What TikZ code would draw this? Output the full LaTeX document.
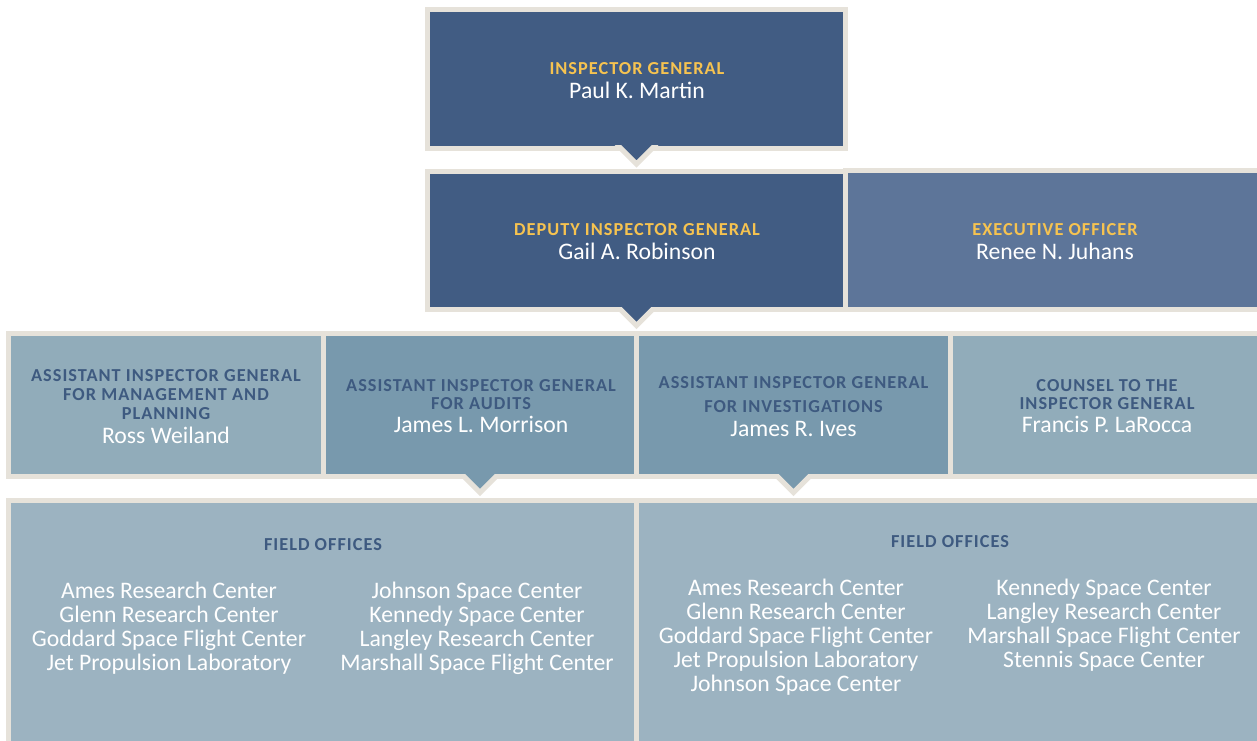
\documentclass[tikz,border=0pt]{standalone}
\usepackage{fontspec}
\setmainfont{Carlito}
\newfontfamily\headfont[LetterSpace=5.5]{Carlito}
\usetikzlibrary{calc}

\definecolor{rim}{HTML}{E6E2DA}
\definecolor{navy}{HTML}{415C83}
\definecolor{slate}{HTML}{5D7599}
\definecolor{steel}{HTML}{7899AD}
\definecolor{mist}{HTML}{91ACBA}
\definecolor{fog}{HTML}{9CB3C1}
\definecolor{gold}{HTML}{F6C350}
\definecolor{ink}{HTML}{3E5A80}

% heading and name faces
\newcommand\hd{\headfont\bfseries\fontsize{18.3}{18}\selectfont}
\newcommand\nm{\fontsize{23.7}{23.7}\selectfont\color{white}}

% pointer below a box: filled notch plus its two rim edges
\newcommand\pointer[2]{%
  \fill[#2] ($(#1.south)+(-18.5,-2.5)$) -- ($(#1.south)+(0,16)$) -- ($(#1.south)+(18.5,-2.5)$) -- cycle;
  \begin{scope}
    \clip ($(#1.south)+(-30,-2.5)$) rectangle ($(#1.south)+(30,30)$);
    \draw[rimline] ($(#1.south)+(-20,-4)$) -- ($(#1.south)+(0,16)$) -- ($(#1.south)+(20,-4)$);
  \end{scope}}

\tikzset{
  box/.style={rectangle, draw=rim, line width=5pt, inner sep=0pt, outer sep=0pt},
  rimline/.style={draw=rim, line width=5pt, line join=miter},
  txt/.style={align=center, inner sep=0pt, outer sep=0pt, anchor=base},
  list/.style={txt, text=white, font=\fontsize{23.7}{24}\selectfont},
}

\begin{document}
\begin{tikzpicture}[x=1pt, y=-1pt]
\clip (0,0) rectangle (1257,740);
\fill[white] (0,0) rectangle (1257,740);

% top two rows
\node[box, fill=navy,  minimum width=418pt,   minimum height=138.5pt] (ig)   at (636.5,78.75) {};
\node[box, fill=navy,  minimum width=418pt,   minimum height=138pt]   (dep)  at (636.5,240.5) {};
\node[box, fill=slate, minimum width=414.5pt, minimum height=139pt]   (exec) at (1052.75,240) {};

% assistant inspectors general and counsel
\node[box, fill=mist,  minimum width=315.5pt, minimum height=143pt] (mgmt) at (165.75,405) {};
\node[box, fill=steel, minimum width=313pt,   minimum height=143pt] (aud)  at (480,405) {};
\node[box, fill=steel, minimum width=314pt,   minimum height=143pt] (inv)  at (793.5,405) {};
\node[box, fill=mist,  minimum width=309.5pt, minimum height=143pt] (cou)  at (1105.25,405) {};

% field offices
\node[box, fill=fog, minimum width=628.5pt, minimum height=244.5pt] (fa) at (322.25,622.75) {};
\node[box, fill=fog, minimum width=623.5pt, minimum height=244.5pt] (fb) at (948.25,622.75) {};

\pointer{ig}{navy}
\pointer{dep}{navy}
\pointer{aud}{steel}
\pointer{inv}{steel}

% texts (each anchored on the baseline of its last line)
\node[txt, font=\fontsize{18}{24.3}\selectfont] (ig-t) at (637,98.3)
  {{\hd\color{gold}INSPECTOR GENERAL}\\{\nm Paul K. Martin}};
\node[txt, font=\fontsize{18}{24.3}\selectfont] (dep-t) at (637,259.3)
  {{\hd\color{gold}DEPUTY INSPECTOR GENERAL}\\{\nm Gail A. Robinson}};
\node[txt, font=\fontsize{18}{24.3}\selectfont] (exec-t) at (1055,259.3)
  {{\hd\color{gold}EXECUTIVE OFFICER}\\{\nm Renee N. Juhans}};

\node[txt, font=\fontsize{18}{19}\selectfont] (mgmt-t) at (166,443.3)
  {{\hd\color{ink}ASSISTANT INSPECTOR GENERAL}\\{\hd\color{ink}FOR MANAGEMENT AND}\\{\hd\color{ink}PLANNING}\\[5.3pt]{\nm Ross Weiland}};
\node[txt, font=\fontsize{18}{18.3}\selectfont] (aud-t) at (481,432)
  {{\hd\color{ink}ASSISTANT INSPECTOR GENERAL}\\{\hd\color{ink}FOR AUDITS}\\[4.4pt]{\nm James L. Morrison}};
\node[txt, font=\fontsize{18}{24.2}\selectfont] (inv-t) at (793.5,436.7)
  {{\hd\color{ink}ASSISTANT INSPECTOR GENERAL}\\{\hd\color{ink}FOR INVESTIGATIONS}\\{\nm James R. Ives}};
\node[txt, font=\fontsize{18}{17.6}\selectfont] (cou-t) at (1107,432.3)
  {{\hd\color{ink}COUNSEL TO THE}\\{\hd\color{ink}INSPECTOR GENERAL}\\[5.4pt]{\nm Francis P. LaRocca}};

\node[txt, text=ink] (fa-h) at (323,550) {\hd FIELD OFFICES};
\node[list] (fa-l) at (169,670.3)
  {Ames Research Center\\Glenn Research Center\\Goddard Space Flight Center\\Jet Propulsion Laboratory};
\node[list] (fa-r) at (477,670.3)
  {Johnson Space Center\\Kennedy Space Center\\Langley Research Center\\Marshall Space Flight Center};

\node[txt, text=ink] (fb-h) at (950,547) {\hd FIELD OFFICES};
\node[list] (fb-l) at (796,691.3)
  {Ames Research Center\\Glenn Research Center\\Goddard Space Flight Center\\Jet Propulsion Laboratory\\Johnson Space Center};
\node[list] (fb-r) at (1104,667.3)
  {Kennedy Space Center\\Langley Research Center\\Marshall Space Flight Center\\Stennis Space Center};
\end{tikzpicture}
\end{document}
